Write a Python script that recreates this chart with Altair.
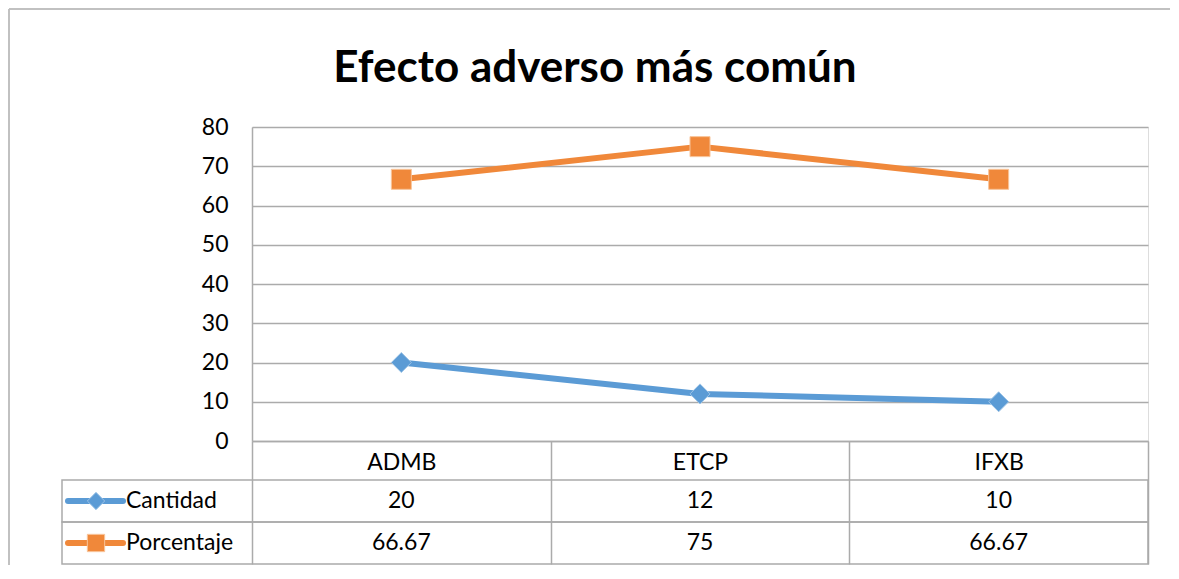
import altair as alt
import pandas as pd

# ---- data ----
categories = ["ADMB", "ETCP", "IFXB"]
series_names = ["Cantidad", "Porcentaje"]
cantidad = [20, 12, 10]
porcentaje = [66.67, 75, 66.67]
y_ticks = [0, 10, 20, 30, 40, 50, 60, 70, 80]
title_text = "Efecto adverso más común"

# ---- styles ----
FONT = "Lato"
GRID = "#ABABAB"
BORDER = "#BDBDBD"
colors = ["#5B9BD5", "#F0883A"]
marker_strokes = ["#9DC3E6", "#F8C49A"]
shapes = ["diamond", "square"]
W, H = 896, 314

rows = []
for s, vals in zip(series_names, [cantidad, porcentaje]):
    for c, v in zip(categories, vals):
        rows.append({"categoria": c, "serie": s, "valor": v, "texto": f"{v:g}"})
df = pd.DataFrame(rows)
legend_df = pd.DataFrame({"serie": series_names})

x_enc = alt.X(
    "categoria:N",
    sort=categories,
    scale=alt.Scale(type="band", domain=categories, paddingInner=0, paddingOuter=0),
    axis=alt.Axis(
        title=None, labelAngle=0, labelFontSize=23, labelFont=FONT, labelColor="black",
        domainColor=GRID, domainWidth=1.5, ticks=True, tickBand="extent",
        tickSize=123, tickColor=GRID, tickWidth=1.5, labelPadding=-102,
        labelBaseline="middle", grid=False,
    ),
)
y_axis = alt.Axis(
    values=y_ticks, tickCount=len(y_ticks) + 1, title=None, grid=True, gridColor=GRID,
    gridWidth=1.5, ticks=False, domainColor=GRID, domainWidth=1.5, labelFontSize=23,
    labelFont=FONT, labelColor="black", labelPadding=24, labelOverlap=False,
)
y_main = alt.Y("valor:Q", scale=alt.Scale(domain=[0, 80], nice=False), axis=y_axis)
color_enc = alt.Color("serie:N", scale=alt.Scale(domain=series_names, range=colors), legend=None)
fill_enc = alt.Fill("serie:N", scale=alt.Scale(domain=series_names, range=colors), legend=None)
stroke_enc = alt.Stroke("serie:N", scale=alt.Scale(domain=series_names, range=marker_strokes), legend=None)
shape_enc = alt.Shape("serie:N", scale=alt.Scale(domain=series_names, range=shapes), legend=None)

base = alt.Chart(df)
lines = base.mark_line(strokeWidth=6, strokeJoin="round").encode(
    x=x_enc, y=y_main, color=color_enc, detail="serie:N"
)
points = base.mark_point(filled=True, size=400, opacity=1, strokeWidth=1).encode(
    x=x_enc, y=y_main, fill=fill_enc, stroke=stroke_enc, shape=shape_enc,
)
main = alt.layer(lines, points)

row_y = alt.Y(
    "serie:N",
    scale=alt.Scale(type="band", domain=series_names, range=[353, 437], paddingInner=0, paddingOuter=0),
    axis=None,
)
cells = alt.Chart(legend_df).mark_rect(fill=None, stroke=GRID, strokeWidth=1.5).encode(
    x=alt.value(-190), x2=alt.value(W), y=row_y
)
values_text = alt.Chart(df).mark_text(fontSize=23, font=FONT, color="black", baseline="middle").encode(
    x=alt.X("categoria:N", sort=categories), y=row_y, text="texto:N"
)
leg_line = alt.Chart(legend_df).mark_rule(strokeWidth=6, strokeCap="round").encode(
    x=alt.value(-184), x2=alt.value(-129), y=row_y, color=color_enc
)
leg_mark = alt.Chart(legend_df).mark_point(filled=True, size=300, opacity=1, strokeWidth=1).encode(
    x=alt.value(-156), y=row_y, fill=fill_enc, stroke=stroke_enc, shape=shape_enc,
)
leg_text = alt.Chart(legend_df).mark_text(fontSize=23, font=FONT, color="black", align="left", baseline="middle").encode(
    x=alt.value(-126), y=row_y, text="serie:N"
)
table = alt.layer(cells, values_text, leg_line, leg_mark, leg_text)

border_top = alt.Chart(legend_df).mark_rule(stroke=BORDER, strokeWidth=1.5).encode(
    x=alt.value(-243), x2=alt.value(918), y=alt.value(-118)
)
border_left = alt.Chart(legend_df).mark_rule(stroke=BORDER, strokeWidth=1.5).encode(
    x=alt.value(-243), y=alt.value(-118), y2=alt.value(440)
)

chart = alt.layer(border_top, border_left, main, table).resolve_scale(y="independent").properties(
    width=W, height=H,
    title=alt.Title(title_text, fontSize=44, font=FONT, fontWeight="bold", color="black",
                    anchor="middle", frame="group", dx=-105, dy=118, offset=0, baseline="alphabetic"),
    autosize=alt.AutoSizeParams(type="none"),
    padding={"left": 244, "top": 119, "right": 23, "bottom": 124},
).configure_view(stroke=None).configure(background="white")

chart.save("out.html", embed_options={"renderer": "svg", "actions": False})
